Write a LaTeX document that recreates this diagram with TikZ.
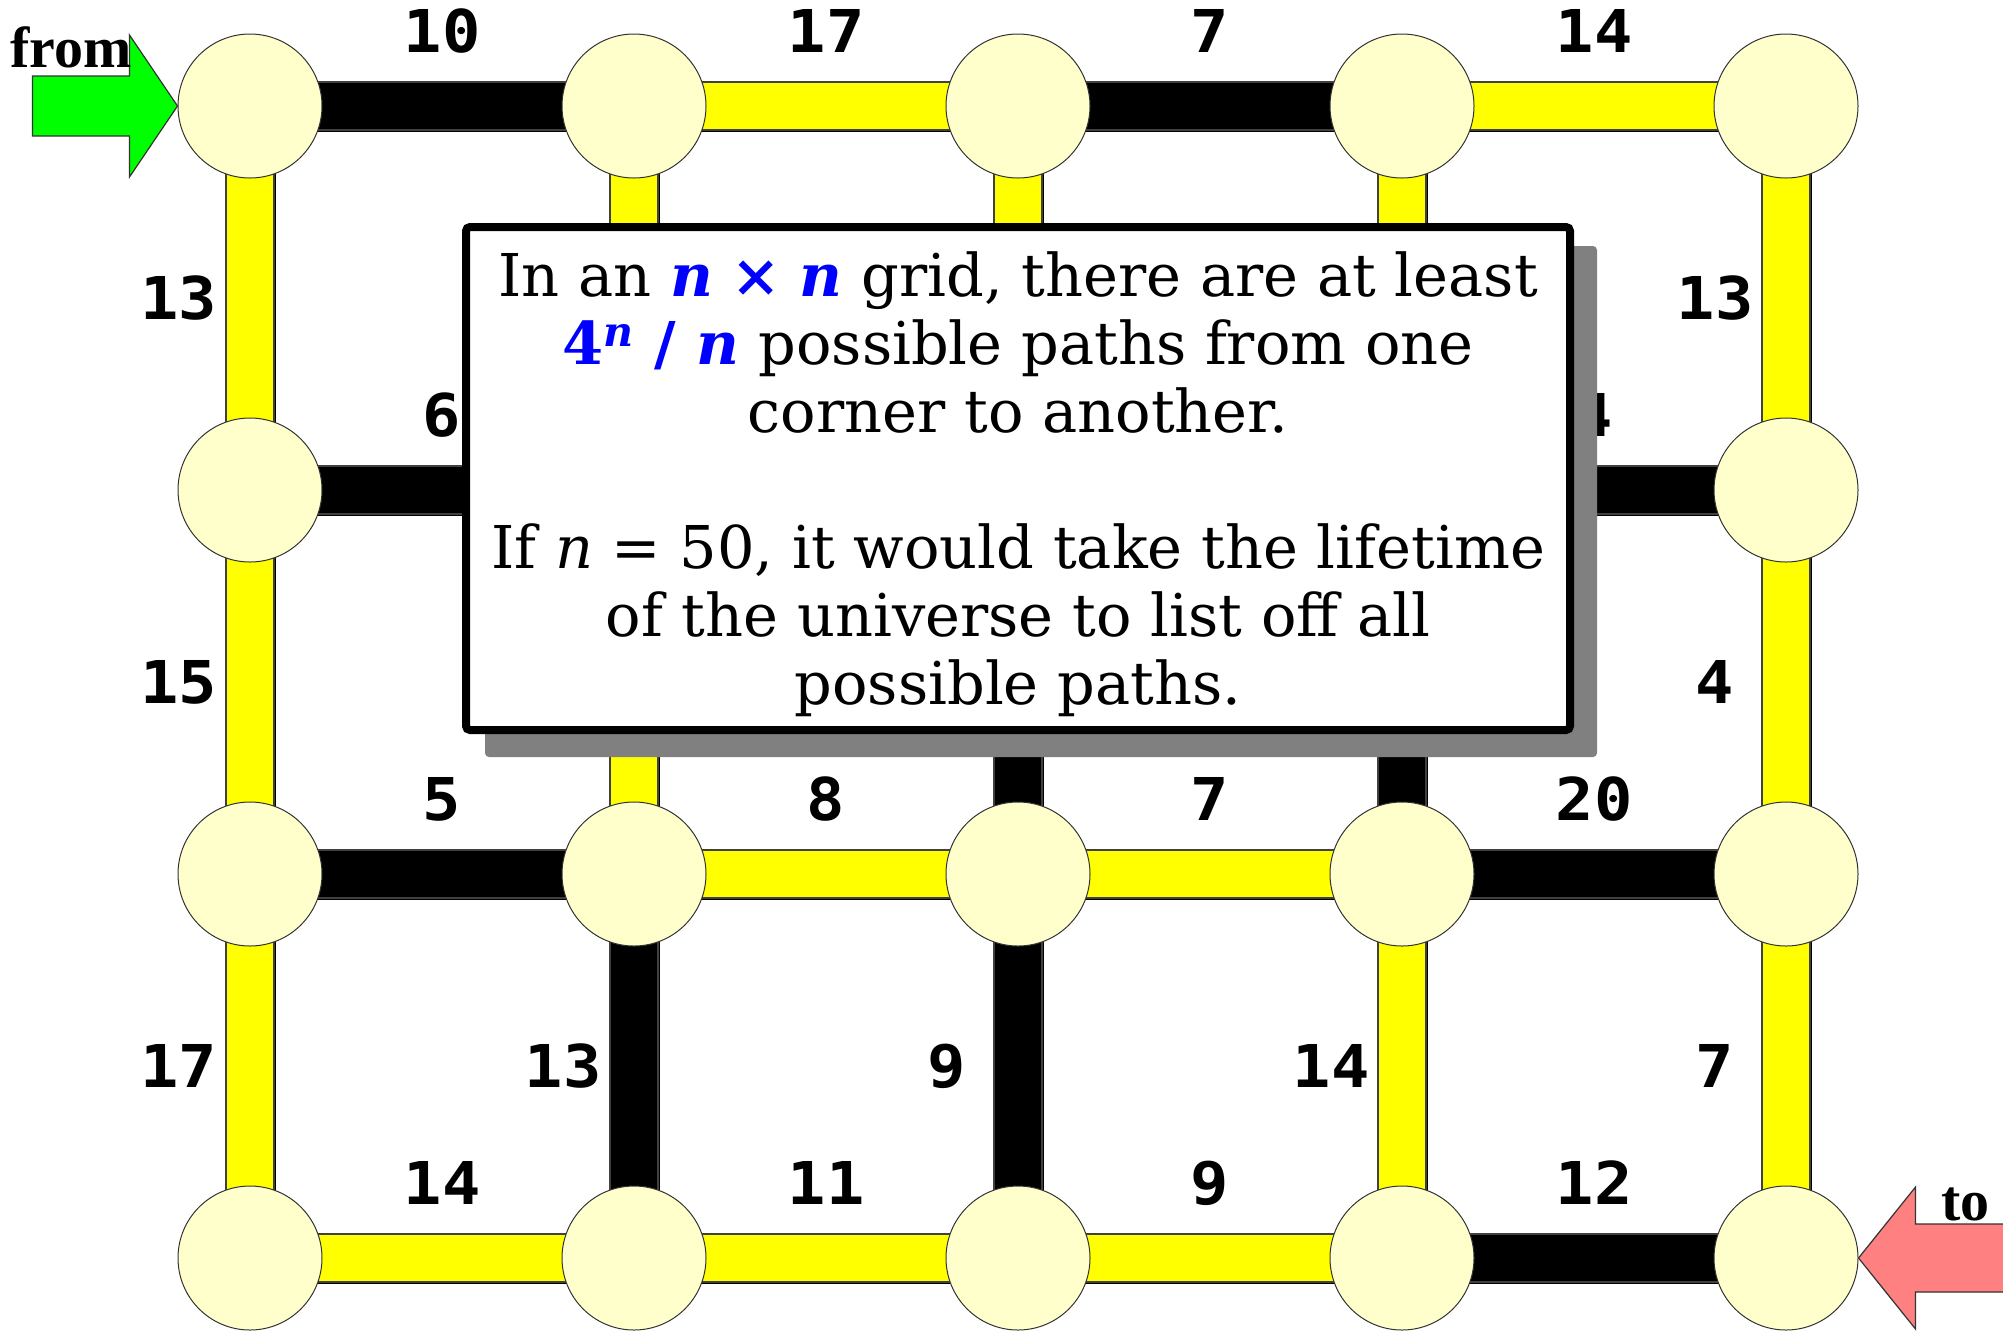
\documentclass[tikz,border=0pt]{standalone}
\usepackage{fontspec}
\setmainfont{DejaVu Serif}
\newfontfamily\lblfont{DejaVu Sans Mono}[FakeStretch=1.08]
\newfontfamily\ftfont{Liberation Serif}
\usetikzlibrary{calc}
\definecolor{nodefill}{HTML}{FFFFCC}
\definecolor{edgeyellow}{HTML}{FFFF00}
\definecolor{fromgreen}{HTML}{00FF00}
\definecolor{topink}{HTML}{FF8080}
\definecolor{shadowgray}{HTML}{808080}
\definecolor{textblue}{HTML}{0000FF}
\pgfdeclarelayer{bg}
\pgfsetlayers{bg,main}
\newcommand\hedgebar[3]{%
  \fill[black] ($(#1)+(1.5,-22.5)$) rectangle ($(#2)+(1.5,25.5)$);
  \filldraw[edgebar,fill=#3] ($(#1)+(0,-24)$) rectangle ($(#2)+(0,24)$);}
\newcommand\vedgebar[3]{%
  \fill[black] ($(#1)+(-22.5,1.5)$) rectangle ($(#2)+(25.5,1.5)$);
  \filldraw[edgebar,fill=#3] ($(#1)+(-24,0)$) rectangle ($(#2)+(24,0)$);}
\newcommand\bl[1]{{\color{textblue}\bfseries #1}}
\begin{document}
\begin{tikzpicture}[x=0.5pt,y=-0.5pt,
  gnode/.style={circle, draw=black!80, line width=0.5pt, fill=nodefill, minimum size=72pt, inner sep=0pt},
  lbl/.style={font=\lblfont\bfseries\fontsize{29.5pt}{30pt}\selectfont, inner sep=0pt},
  edgebar/.style={draw=black!75, line width=0.6pt},
  bigarrow/.style={draw=black!80, line width=0.6pt},
  endtext/.style={font=\ftfont\bfseries\fontsize{29pt}{30pt}\selectfont, inner sep=0pt},
  textbox/.style={draw=black, line width=4pt, fill=white, rounded corners=2pt,
     minimum width=552pt, minimum height=251.5pt, inner sep=0pt},
  boxtext/.style={inner sep=0pt, align=center, font=\fontsize{29.5pt}{34pt}\selectfont},
  shadowbox/.style={fill=shadowgray, rounded corners=2pt, minimum width=556pt,
     minimum height=255.5pt, inner sep=0pt}]
\useasboundingbox (0,0) rectangle (2003,1335);
\begin{pgfonlayer}{bg}
\fill[white] (0,0) rectangle (2003,1335);
\end{pgfonlayer}
% grid nodes
\foreach \r in {0,...,3}{
  \foreach \c in {0,...,4}{
    \node[gnode] (n\r\c) at ({250+384*\c},{106+384*\r}) {};
  }
}
% horizontal edges with labels
\foreach \r/\c/\col/\lab in {0/0/black/10, 0/1/edgeyellow/17, 0/2/black/7, 0/3/edgeyellow/14,
    1/0/black/6, 1/3/black/4,
    2/0/black/5, 2/1/edgeyellow/8, 2/2/edgeyellow/7, 2/3/black/20,
    3/0/edgeyellow/14, 3/1/edgeyellow/11, 3/2/edgeyellow/9, 3/3/black/12}{
  \pgfmathtruncatemacro\cn{\c+1}
  \begin{pgfonlayer}{bg}\hedgebar{n\r\c}{n\r\cn}{\col}\end{pgfonlayer}
  \node[lbl] (h\r\c) at ($(n\r\c)!0.5!(n\r\cn)+(0,-75)$) {\lab};
}
% vertical edges with labels
\foreach \r/\c/\col/\lab in {0/0/edgeyellow/13, 0/4/edgeyellow/13,
    1/0/edgeyellow/15, 1/4/edgeyellow/4,
    2/0/edgeyellow/17, 2/1/black/13, 2/2/black/9, 2/3/edgeyellow/14, 2/4/edgeyellow/7}{
  \pgfmathtruncatemacro\rn{\r+1}
  \begin{pgfonlayer}{bg}\vedgebar{n\r\c}{n\rn\c}{\col}\end{pgfonlayer}
  \node[lbl] (v\r\c) at ($(n\r\c)!0.5!(n\rn\c)+(-71,0)$) {\lab};
}
% vertical edges hidden behind the box (labels not visible)
\foreach \r/\c/\col in {0/1/edgeyellow, 0/2/edgeyellow, 0/3/edgeyellow,
    1/1/edgeyellow, 1/2/black, 1/3/black}{
  \pgfmathtruncatemacro\rn{\r+1}
  \begin{pgfonlayer}{bg}\vedgebar{n\r\c}{n\rn\c}{\col}\end{pgfonlayer}
}
% from arrow
\coordinate (fromtip) at (n00.west);
\filldraw[bigarrow, fill=fromgreen] (fromtip) -- ++(-48,-71) -- ++(0,41) -- ++(-97,0)
   -- ++(0,60) -- ++(97,0) -- ++(0,41) -- cycle;
\node[endtext, anchor=base west] (fromlbl) at (10,67) {from};
% to arrow
\coordinate (totip) at (n34.east);
\filldraw[bigarrow, fill=topink] (totip) -- ++(57,-71) -- ++(0,37) -- ++(92,0)
   -- ++(0,68) -- ++(-92,0) -- ++(0,37) -- cycle;
\node[endtext, anchor=base west] (tolbl) at (1941,1220) {to};
% info box
\node[shadowbox] (shadow) at (1041,501.5) {};
\node[textbox] (box) at (1018,478.5) {};
\node[boxtext] (boxtxt) at (1018,484) {In an \bl{\itshape n} \bl{×} \bl{\itshape n} grid, there are at least\\
\bl{4\textsuperscript{\itshape n} / \itshape n} possible paths from one\\
corner to another.\\[34pt]
If \textit{n} = 50, it would take the lifetime\\
of the universe to list off all\\
possible paths.};
\end{tikzpicture}
\end{document}
